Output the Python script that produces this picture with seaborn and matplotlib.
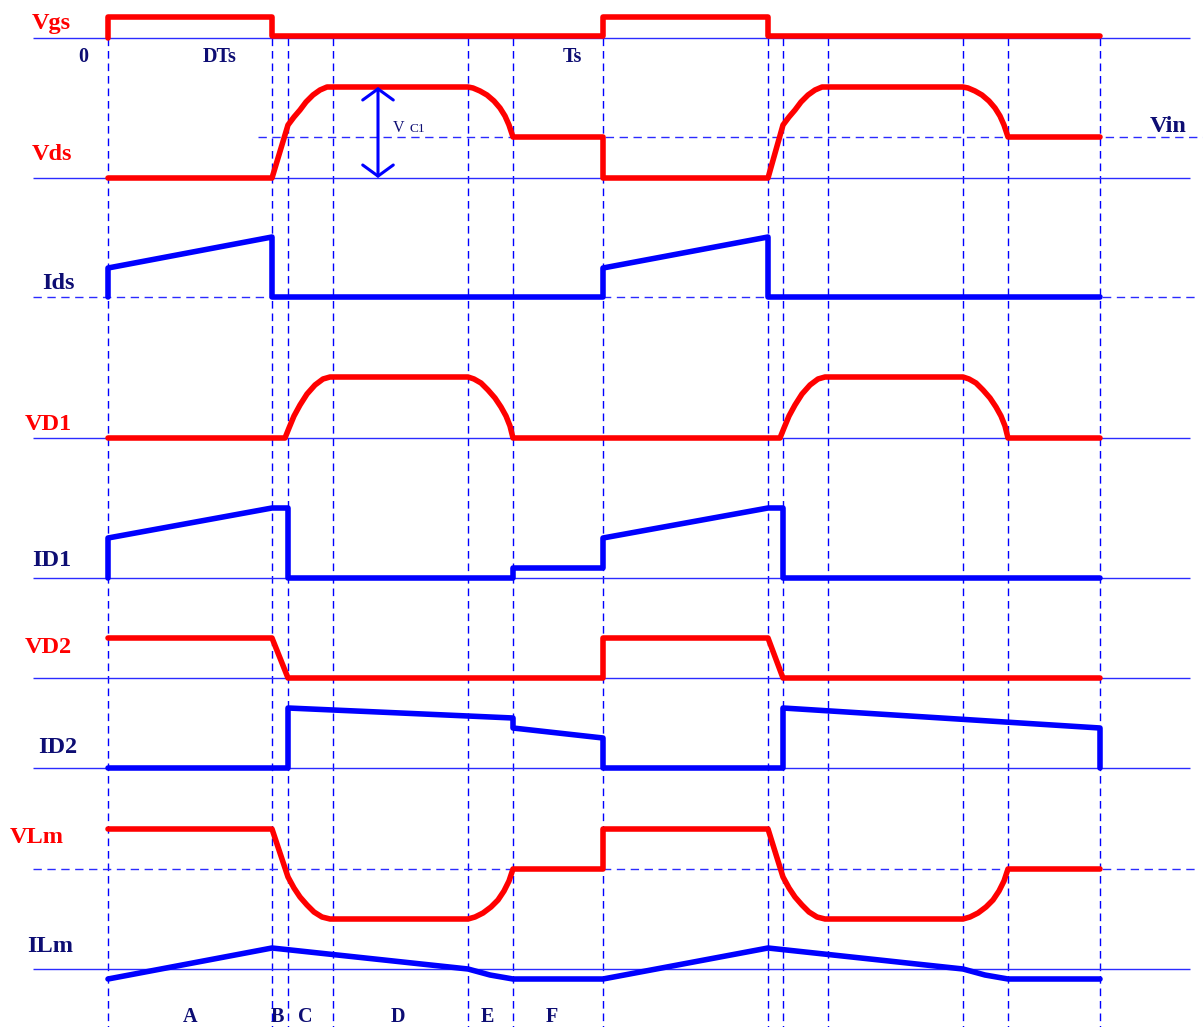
import numpy as np
import matplotlib
matplotlib.use("Agg")
import matplotlib.pyplot as plt
import seaborn as sns

# ---------------- data (time in px-like units, levels above each baseline) ----------------
t_marks = [108, 272, 288, 333, 468, 513, 603, 768, 783, 828, 963, 1008, 1100]

base_vgs, base_vds, base_ids = 38, 178, 297
base_vd1, base_id1, base_vd2 = 438, 578, 678
base_id2, base_vlm, base_ilm = 768, 869, 969
vin_level = 137

vgs_t = [108, 108, 272, 272, 603, 603, 768, 768, 1100]
vgs_v = [0, 21, 21, 2, 2, 21, 21, 2, 2]

vds_t = [108, 272, 288, 294, 300, 306, 313, 320, 327, 333,
         468, 473, 480, 487, 494, 500, 505, 509, 513, 603, 603,
         768, 783, 789, 795, 801, 808, 815, 822, 828,
         963, 968, 975, 982, 989, 995, 1000, 1004, 1008, 1100]
vds_v = [0, 0, 53, 61, 68, 76, 83, 88, 91, 91,
         91, 90, 87, 83, 77, 70, 62, 53, 41, 41, 0,
         0, 53, 61, 68, 76, 83, 88, 91, 91,
         91, 90, 87, 83, 77, 70, 62, 53, 41, 41]

ids_t = [108, 108, 272, 272, 603, 603, 768, 768, 1100]
ids_v = [0, 29, 60, 0, 0, 29, 60, 0, 0]

vd1_t = [108, 285, 289, 294, 300, 307, 315, 323, 330,
         468, 474, 481, 488, 495, 501, 506, 510, 513,
         780, 784, 789, 795, 802, 810, 818, 825,
         963, 969, 976, 983, 990, 996, 1001, 1005, 1008, 1100]
vd1_v = [0, 0, 10, 22, 33, 44, 53, 59, 61,
         61, 59, 55, 48, 40, 31, 22, 12, 0,
         0, 10, 22, 33, 44, 53, 59, 61,
         61, 59, 55, 48, 40, 31, 22, 12, 0, 0]

id1_t = [108, 108, 272, 288, 288, 513, 513, 603, 603, 768, 783, 783, 1100]
id1_v = [0, 40, 70, 70, 0, 0, 10, 10, 40, 70, 70, 0, 0]

vd2_t = [108, 272, 288, 603, 603, 768, 783, 1100]
vd2_v = [40, 40, 0, 0, 40, 40, 0, 0]

id2_t = [108, 288, 288, 513, 513, 603, 603, 783, 783, 1100, 1100]
id2_v = [0, 0, 60, 50, 40, 30, 0, 0, 60, 40, 0]

vlm_t = [108, 272, 288, 294, 300, 307, 314, 322, 330, 333,
         468, 475, 483, 491, 498, 504, 509, 513, 603, 603,
         768, 783, 789, 795, 802, 809, 817, 825, 828,
         963, 970, 978, 986, 993, 999, 1004, 1008, 1100]
vlm_v = [40, 40, -8, -19, -28, -36, -43, -48, -50, -50,
         -50, -48, -44, -38, -31, -22, -12, 0, 0, 40,
         40, -8, -19, -28, -36, -43, -48, -50, -50,
         -50, -48, -44, -38, -31, -22, -12, 0, 0]

ilm_t = [108, 272, 468, 490, 513, 603, 768, 963, 985, 1008, 1100]
ilm_v = [-10, 21, 0, -6, -10, -10, 21, 0, -6, -10, -10]

interval_labels = ["A", "B", "C", "D", "E", "F"]
interval_x = [190, 277, 305, 398, 487, 552]

# ---------------- styling ----------------
RED = "#FF0000"
BLUE = "#0000FF"
NAVY = "#0D0D73"
LINEBLUE = "#2B2BFF"

sns.set_theme(style="white")
plt.rcParams["font.family"] = ["Liberation Serif", "DejaVu Serif"]

W, H = 1203, 1027
fig = plt.figure(figsize=(W / 100, H / 100), dpi=100)
ax = fig.add_axes([0, 0, 1, 1])
ax.set_xlim(0, W)
ax.set_ylim(H, 0)
ax.axis("off")

# vertical dashed time markers
ax.vlines(t_marks, 38, H, colors=BLUE, linestyles=(0, (5.5, 3.5)), linewidth=1.0, zorder=1)

# baselines
solid_bases = [base_vgs, base_vds, base_vd1, base_id1, base_vd2, base_id2, base_ilm]
ax.hlines(solid_bases, 33, 1190, colors=LINEBLUE, linewidth=1.0, zorder=1)
ax.hlines([base_ids, base_vlm], 33, 1195, colors=LINEBLUE, linestyles=(0, (6, 4)),
          linewidth=1.0, zorder=1)
ax.hlines([vin_level], 258, 1203, colors=LINEBLUE, linestyles=(0, (6, 4)),
          linewidth=1.0, zorder=1)

traces = [
    (vgs_t, vgs_v, base_vgs, RED),
    (vds_t, vds_v, base_vds, RED),
    (ids_t, ids_v, base_ids, BLUE),
    (vd1_t, vd1_v, base_vd1, RED),
    (id1_t, id1_v, base_id1, BLUE),
    (vd2_t, vd2_v, base_vd2, RED),
    (id2_t, id2_v, base_id2, BLUE),
    (vlm_t, vlm_v, base_vlm, RED),
    (ilm_t, ilm_v, base_ilm, BLUE),
]
for t, v, b, c in traces:
    y = b - np.asarray(v, dtype=float)
    sns.lineplot(x=np.asarray(t, dtype=float), y=y, sort=False, estimator=None,
                 color=c, linewidth=4.0, ax=ax, legend=False,
                 solid_capstyle="round", solid_joinstyle="round", zorder=3)

# VC1 arrow
ax.annotate("", xy=(378, 87), xytext=(378, 178),
            arrowprops=dict(arrowstyle="<->,head_length=0.4,head_width=0.55",
                            color=BLUE, lw=2.2, shrinkA=0, shrinkB=0,
                            mutation_scale=20), zorder=4)
ax.text(393, 132, "V", color=NAVY, fontsize=11.5, ha="left", va="baseline")
ax.text(410, 132, "C1", color=NAVY, fontsize=9.5, ha="left", va="baseline")

# signal names
red_labels = [("Vgs", 32, 29), ("Vds", 32, 160), ("VD1", 25, 430),
              ("VD2", 25, 653), ("VLm", 10, 843)]
navy_labels = [("Ids", 42, 289), ("ID1", 32, 566), ("ID2", 38, 753),
               ("ILm", 27, 952), ("Vin", 1150, 132)]
for s, x, y in red_labels:
    ax.text(x, y, s, color=RED, fontsize=17.5, fontweight="bold", ha="left", va="baseline")
for s, x, y in navy_labels:
    ax.text(x, y, s, color=NAVY, fontsize=17.5, fontweight="bold", ha="left", va="baseline")

# time labels
for s, x in [("0", 83), ("DTs", 220), ("Ts", 572)]:
    ax.text(x, 62, s, color=NAVY, fontsize=14.5, fontweight="bold", ha="center", va="baseline")

for s, x in zip(interval_labels, interval_x):
    ax.text(x, 1022, s, color=NAVY, fontsize=14.5, fontweight="bold", ha="center", va="baseline")

fig.savefig("out.png", dpi=100, facecolor="white")
